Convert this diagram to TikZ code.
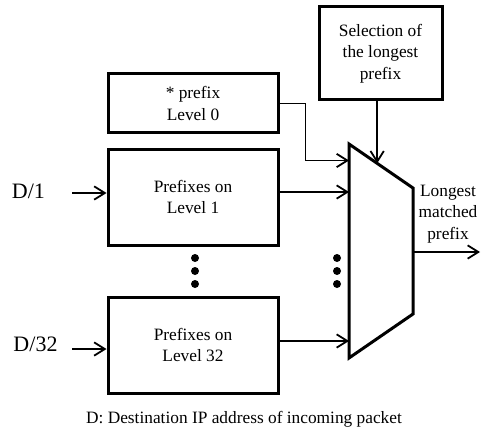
\documentclass[tikz,border=0pt]{standalone}
\usepackage{fontspec}
\setmainfont{Liberation Serif}
\usetikzlibrary{arrows.meta,positioning,calc}

\begin{document}
\begin{tikzpicture}[x=0.75pt,y=-0.75pt,
    every node/.style={font=\fontsize{13}{16}\selectfont,align=center},
    >={Straight Barb[length=8pt,width=10pt]},
    blk/.style={draw,line width=2.25pt,minimum width=127.5pt,inner sep=0pt},
    arr/.style={->,line width=1.35pt}]
  \useasboundingbox (0,0) rectangle (481,431);
  % prefix tables
  \node[blk,minimum height=44.25pt] (lvl0) at (193,103.5) {* prefix\\Level 0};
  \node[blk,minimum height=72pt] (lvl1) at (193,197) {Prefixes on\\Level 1};
  \node[blk,minimum height=72pt] (lvl32) at (193,345) {Prefixes on\\Level 32};
  \node[blk,minimum width=92.25pt,minimum height=69.75pt] (sel) at (380.5,53.5)
    {Selection of\\the longest\\prefix};
  % selector
  \coordinate (m-tl) at (349,144);
  \coordinate (m-tr) at (413,188);
  \coordinate (m-br) at (413,314);
  \coordinate (m-bl) at (349,358);
  \draw[line width=2.25pt] (m-tl) -- (m-tr) -- (m-br) -- (m-bl) -- cycle;
  \coordinate (m-sel) at ($(m-tl)!0.44!(m-tr)$);
  % inputs
  \node[inner sep=0pt,font=\fontsize{16.5}{20}\selectfont] (d1) at (28.5,191) {D/1};
  \node[inner sep=0pt,font=\fontsize{16.5}{20}\selectfont] (d32) at (35.5,344) {D/32};
  \coordinate (in1) at (72,193);
  \coordinate (in32) at (72,349);
  \draw[arr] (in1) -- (in1 -| lvl1.west);
  \draw[arr] (in32) -- (in32 -| lvl32.west);
  % to the selector
  \draw[arr] (lvl0.east) -| ++(26,57) coordinate (j0) -- (j0 -| m-tl);
  \draw[arr] ($(lvl1.east)+(0,-5)$) coordinate (o1) -- (o1 -| m-tl);
  \draw[arr] ($(lvl32.east)+(0,-4)$) coordinate (o32) -- (o32 -| m-tl);
  \draw[arr] (m-sel |- sel.south) -- (m-sel);
  % output
  \coordinate (out) at (480,252);
  \draw[arr] (out -| m-tr) -- (out);
  \node (res) at (448,214) {Longest\\matched\\prefix};
  % dots
  \foreach \dy in {-13,0,13}{
    \fill ($(195,271)+(0,\dy)$) circle (3pt);
    \fill ($(337,271)+(0,\dy)$) circle (3pt);
  }
  \node (cap) at (244,419) {D: Destination IP address of incoming packet};
\end{tikzpicture}
\end{document}
